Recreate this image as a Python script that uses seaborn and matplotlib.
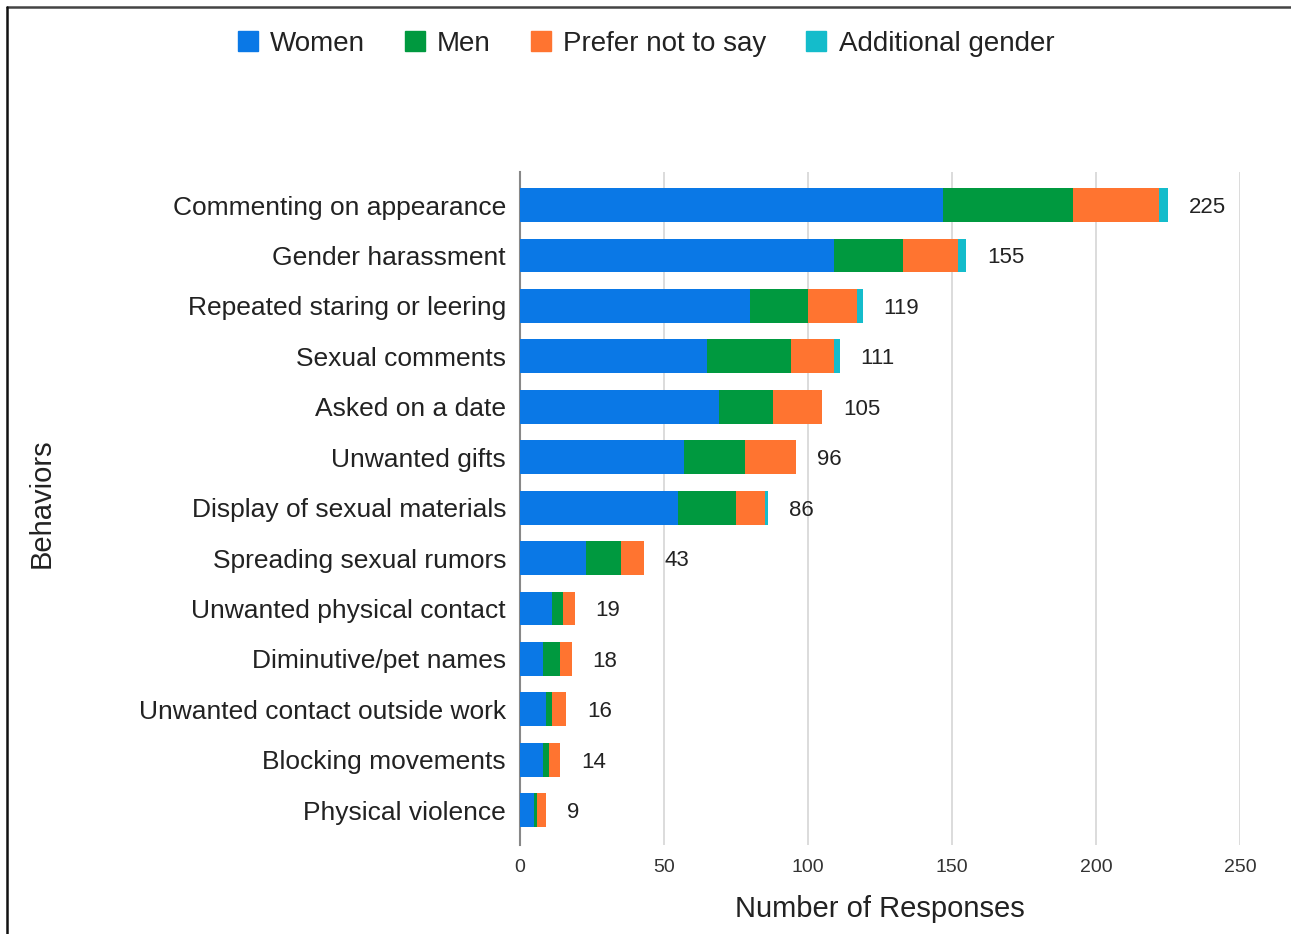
import matplotlib
matplotlib.use("Agg")
import matplotlib.pyplot as plt
from matplotlib.lines import Line2D
import seaborn as sns
import pandas as pd
import numpy as np

categories = [
    "Commenting on appearance",
    "Gender harassment",
    "Repeated staring or leering",
    "Sexual comments",
    "Asked on a date",
    "Unwanted gifts",
    "Display of sexual materials",
    "Spreading sexual rumors",
    "Unwanted physical contact",
    "Diminutive/pet names",
    "Unwanted contact outside work",
    "Blocking movements",
    "Physical violence",
]
women = [147, 109, 80, 65, 69, 57, 55, 23, 11, 8, 9, 8, 5]
men = [45, 24, 20, 29, 19, 21, 20, 12, 4, 6, 2, 2, 1]
prefer_not = [30, 19, 17, 15, 17, 18, 10, 8, 4, 4, 5, 4, 3]
additional = [3, 3, 2, 2, 0, 0, 1, 0, 0, 0, 0, 0, 0]
totals = [225, 155, 119, 111, 105, 96, 86, 43, 19, 18, 16, 14, 9]

series_names = ["Women", "Men", "Prefer not to say", "Additional gender"]
colors = ["#0a78e6", "#00993f", "#ff7430", "#14bccb"]

sns.set_theme(style="white")
plt.rcParams["font.family"] = ["Liberation Sans", "DejaVu Sans"]

fig = plt.figure(figsize=(12.91, 9.34), dpi=100)
ax = fig.add_axes([520 / 1291, 1 - 845 / 934, 720 / 1291, 673 / 934])

df = pd.DataFrame({
    "Behavior": categories,
    "Women": women,
    "Men": men,
    "Prefer not to say": prefer_not,
    "Additional gender": additional,
})
cum = df[series_names].cumsum(axis=1)

for name, col in reversed(list(zip(series_names, colors))):
    sns.barplot(x=cum[name], y=df["Behavior"], color=col, orient="h",
                width=0.67, ax=ax, saturation=1, edgecolor="none", linewidth=0,
                zorder=3)

for i, t in enumerate(totals):
    ax.annotate(str(t), xy=(t, i), xytext=(15, 0), textcoords="offset points",
                va="center_baseline", ha="left", fontsize=16, color="#222222")

ax.set_xlim(0, 250)
ax.set_ylim(12.69, -0.655)
ax.set_xticks([0, 50, 100, 150, 200, 250])
ax.xaxis.grid(True, color="#d9d9d9", linewidth=1.3, zorder=0)
ax.set_axisbelow(True)
for s in ["top", "right", "bottom"]:
    ax.spines[s].set_visible(False)
ax.spines["left"].set_color("#888888")
ax.spines["left"].set_linewidth(1.5)
ax.tick_params(axis="x", labelsize=14, colors="#333333", length=0, pad=10)
ax.tick_params(axis="y", labelsize=19, colors="#222222", length=0, pad=10)
ax.set_xlabel("Number of Responses", fontsize=21, color="#222222", labelpad=14)
ax.set_ylabel("")
fig.text(42 / 1291, 1 - 503 / 934, "Behaviors", rotation=90, fontsize=21,
         color="#222222", ha="center", va="center")

handles = [Line2D([0], [0], marker="s", linestyle="none", markersize=15,
                  markerfacecolor=c, markeredgecolor=c) for c in colors]
fig.legend(handles, series_names, loc="center", bbox_to_anchor=(644 / 1291, 1 - 44 / 934),
           ncol=4, frameon=False, fontsize=20, handletextpad=0.3,
           columnspacing=1.3, handlelength=1.0, labelcolor="#222222")

fig.add_artist(Line2D([7 / 1291, 1], [1 - 7 / 934, 1 - 7 / 934],
                      transform=fig.transFigure, color="#444444", linewidth=1.8))
fig.add_artist(Line2D([7 / 1291, 7 / 1291], [0, 1 - 7 / 934],
                      transform=fig.transFigure, color="#111111", linewidth=1.8))

fig.savefig("out.png", dpi=100)
